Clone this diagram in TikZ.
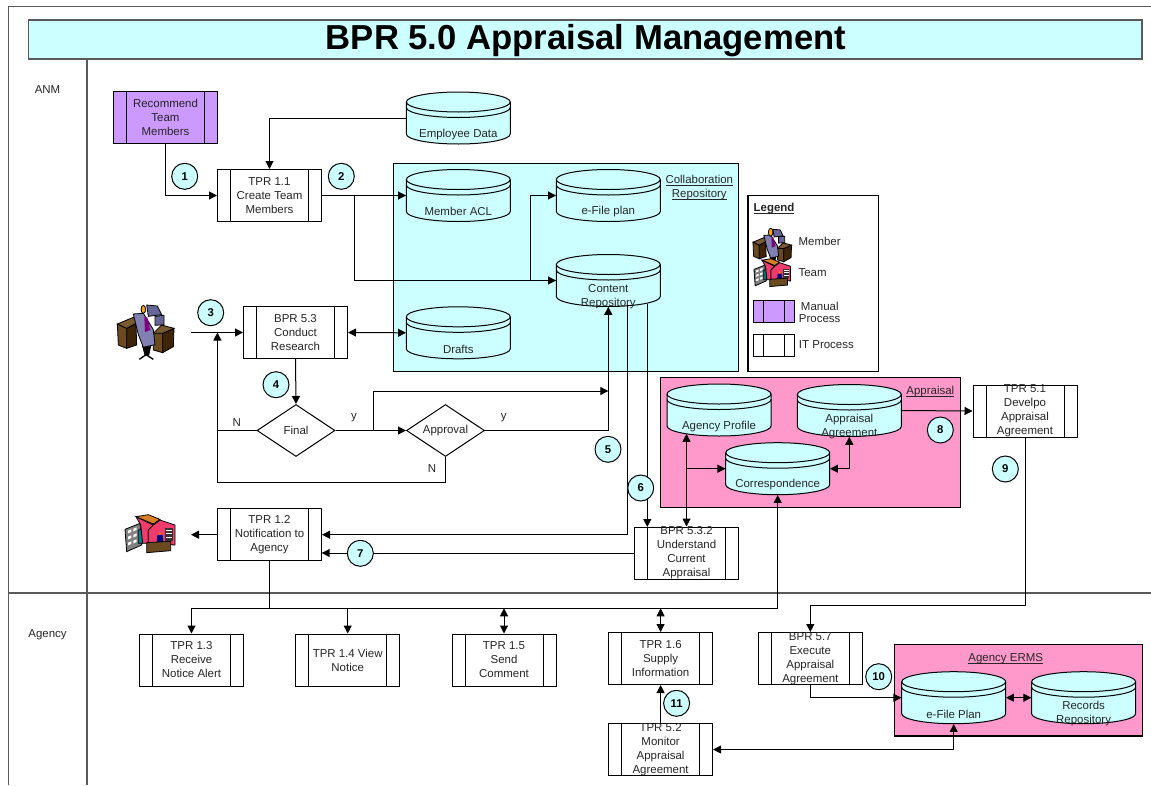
\documentclass[tikz,border=0pt]{standalone}
\usepackage{fontspec}
\setmainfont{Liberation Sans}
\usetikzlibrary{arrows.meta,calc,shapes.geometric}
\definecolor{cy}{HTML}{CCFFFF}
\definecolor{pk}{HTML}{FF99CC}
\definecolor{pu}{HTML}{CC99FF}
\definecolor{frameln}{HTML}{5A5A5A}
\newcommand\lbl{\fontsize{8.6}{10.5}\selectfont}
\newcommand\ulx[1]{\underline{\smash{#1}}}
\tikzset{
  procbox/.style={draw=black,line width=.75pt,rectangle,minimum width=78pt,minimum height=39pt,inner sep=0pt,
    path picture={\draw[line width=.75pt]
      ($(path picture bounding box.north west)+(#1pt,0)$) -- ($(path picture bounding box.south west)+(#1pt,0)$)
      ($(path picture bounding box.north east)+(-#1pt,0)$) -- ($(path picture bounding box.south east)+(-#1pt,0)$);}},
  procbox/.default=9.75,
  boxtext/.style={font=\lbl,align=center,inner sep=0pt,text=black!85},
  plain/.style={font=\lbl,inner sep=0pt,text=black!85},
  dbbox/.style={rectangle,minimum width=78pt,minimum height=39pt,inner sep=0pt},
  dbline/.style={draw=black,line width=.75pt},
  flow/.style={line width=.75pt,-{Triangle[length=6pt,width=6pt]}},
  bothflow/.style={line width=.75pt,{Triangle[length=6pt,width=6pt]}-{Triangle[length=6pt,width=6pt]}},
  wire/.style={line width=.75pt},
  stepmark/.style={circle,draw=black,fill=cy,line width=.75pt,minimum size=19.5pt,inner sep=0pt,font=\fontsize{8.5}{9}\selectfont\bfseries},
  decision/.style={diamond,aspect=1.5,draw=black,line width=.75pt,fill=white,minimum width=58.5pt,minimum height=39pt,inner sep=0pt},
  swim/.style={draw=frameln,line width=1pt},
  icn/.style={draw=black,line width=.6pt},
}
\newcommand\proc[5][white]{%
  \node[procbox,fill=#1] (#2) at (#3,#4) {};
  \node[boxtext] (#2-t) at (#2.center) {#5};}
\newcommand\dbase[4]{%
  \begin{scope}[shift={(#2,#3)}]
    \path[dbline,fill=cy] (-52,-16) -- (-52,16) arc[start angle=180,end angle=360,x radius=39pt,y radius=7.5pt]
      -- (52,-16) arc[start angle=0,end angle=180,x radius=39pt,y radius=7.5pt] -- cycle;
    \path[dbline] (-52,-16) arc[start angle=180,end angle=360,x radius=39pt,y radius=7.5pt];
    \path[dbline] (-52,-10.5) arc[start angle=180,end angle=360,x radius=39pt,y radius=7.5pt];
  \end{scope}
  \node[dbbox] (#1) at (#2,#3) {};
  \node[boxtext] (#1-t) at ($(#1.center)+(0,16.3)$) {#4};}
\definecolor{dkbrown}{HTML}{3F2508}
\definecolor{mdbrown}{HTML}{6B4A20}
\definecolor{ltbrown}{HTML}{7A5A30}
\newcommand\personicon{%
  \path[icn,fill=mdbrown] (22,78)--(50,91)--(50,151)--(25,141)--cycle;
  \path[icn,fill=dkbrown] (50,91)--(78,78)--(80,141)--(50,151)--cycle;
  \path[icn,fill=ltbrown] (22,78)--(70,58)--(85,72)--(50,91)--cycle;
  \path[icn,fill=mdbrown] (130,106)--(158,106)--(158,164)--(130,156)--cycle;
  \path[icn,fill=dkbrown] (158,106)--(192,91)--(190,146)--(158,164)--cycle;
  \path[icn,fill=ltbrown] (130,106)--(155,81)--(192,91)--(158,106)--cycle;
  \path[icn,fill=blue!20!gray] (110,21)--(142,24)--(155,50)--(115,55)--cycle;
  \path[icn,fill=blue!20!gray] (135,55)--(162,52)--(162,80)--(135,82)--cycle;
  \path[icn,fill=black] (98,145)--(122,145)--(116,172)--(105,172)--cycle;
  \draw[line width=1pt] (88,184)--(108,170)--(130,184);
  \path[icn,fill=blue!25!gray!80!white] (70,48)--(100,46)--(130,95)--(135,140)--(100,148)--(85,110)--cycle;
  \path[fill=violet] (103,58)--(112,58)--(121,96)--(105,102)--cycle;
  \path[icn,fill=orange!70!yellow] (100,34) ellipse[x radius=1.7pt,y radius=3pt];
}
\newcommand\teamicon{%
  \path[icn,fill=gray] (15,58)--(60,40)--(65,105)--(20,125)--cycle;
  \foreach \a in {0,1,2}{\foreach \b in {0,1}{%
    \path[fill=white] ({24+\b*16},{62-\b*6+\a*18})--++(10,-4)--++(0,8)--++(-10,4)--cycle;}}
  \path[icn,fill=teal] (55,60)--(68,58)--(68,100)--(55,100)--cycle;
  \path[icn,fill=magenta!50!red!80!white] (48,20)--(100,45)--(85,60)--(85,100)--(68,100)--(62,45)--cycle;
  \path[icn,fill=magenta!50!red!80!white] (100,45)--(120,30)--(165,45)--(165,105)--(85,100)--(85,60)--cycle;
  \path[icn,fill=orange!40!brown] (48,20)--(85,14)--(120,28)--(100,42)--cycle;
  \path[fill=black!80] (135,55)--(160,55)--(160,92)--(135,92)--cycle;
  \foreach \a in {0,1,2}{\path[fill=white] (139,{60+\a*10}) rectangle +(18,3);}
  \path[fill=blue!50!black] (112,75)--(128,75)--(130,98)--(110,98)--cycle;
  \path[fill=orange] (120,70) circle[radius=1pt];
  \path[icn,fill=mdbrown] (80,98)--(152,94)--(152,122)--(80,128)--cycle;
}
\begin{document}
\begin{tikzpicture}[x=.75pt,y=-.75pt]
\useasboundingbox (0,0) rectangle (1151,785);
% swim lanes
\draw[swim] (1151,6.5) -- (8.5,6.5) -- (8.5,785);
\draw[swim] (87,59) -- (87,785);
\draw[swim] (8.5,593) -- (1151,593);
\node[draw=frameln,fill=cy,line width=1pt,minimum width=835pt,minimum height=29.25pt,inner sep=0pt] (title) at (585.3,39.5) {};
\node[font=\fontsize{26}{30}\selectfont\bfseries,inner sep=0pt] (title-t) at (586,41) {BPR 5.0 Appraisal Management};
\node[plain] (anm) at (47.5,90) {ANM};
\node[plain] (agencylane) at (47.5,634.5) {Agency};
% containers
\fill[cy,draw=black,line width=.9pt] (393.3,163.3) rectangle (738.7,371.7);
\fill[pk,draw=black,line width=.9pt] (660.3,377.3) rectangle (960.3,507.7);
\fill[pk,draw=black,line width=.9pt] (894.5,644.3) rectangle (1142.4,736);
\draw[line width=.9pt] (748,195.7) rectangle (878.3,371.7);
\node[boxtext] (collab) at (699.3,191.5) {\ulx{Collaboration}\\\ulx{Repository}};
\node[boxtext] (apprl) at (930.3,395.5) {\ulx{Appraisal}};
\node[boxtext] (erms) at (1005.7,662.5) {\ulx{Agency ERMS}};
% legend
\node[plain,font=\lbl\bfseries] (lg) at (774,212.5) {\ulx{Legend}};
\begin{scope}[shift={(748,224.5)},x=.17pt,y=-.17pt]\personicon\end{scope}
\begin{scope}[shift={(750.3,255.3)},x=.183pt,y=-.183pt]\teamicon\end{scope}
\node[plain,anchor=west] (lgm) at (798.3,241) {Member};
\node[plain,anchor=west] (lgt) at (798.3,273) {Team};
\node[plain,anchor=west] (lgman) at (800.7,306) {Manual};
\node[plain,anchor=west] (lgpro) at (798.7,319) {Process};
\node[plain,anchor=west] (lgit) at (798.7,345) {IT Process};
\node[procbox=7.5,fill=pu,minimum width=30.4pt,minimum height=16.8pt] (lgb1) at (773.9,311.2) {};
\node[procbox=7.5,minimum width=30.4pt,minimum height=16.8pt] (lgb2) at (773.9,345.5) {};
% icons
\begin{scope}[shift={(110,298)},x=.25pt,y=-.25pt]\personicon\end{scope}
\begin{scope}[shift={(120,510)},x=.25pt,y=-.25pt]\teamicon\end{scope}
% databases
\dbase{emp}{458.3}{118}{Employee Data}
\dbase{acl}{458.3}{195.5}{Member ACL}
\dbase{efp}{608.3}{195.5}{e-File plan}
\dbase{content}{608.3}{280.5}{Content\\Repository}
\dbase{drafts}{458.3}{332.8}{Drafts}
\dbase{prof}{719}{410}{Agency Profile}
\dbase{agr}{849.3}{410.5}{Appraisal\\Agreement}
\dbase{corr}{777.7}{468.7}{Correspondence}
\dbase{efile}{953.7}{697.7}{e-File Plan}
\dbase{recs}{1083.6}{697.7}{Records\\Repository}
% processes
\proc[pu]{rec}{165.5}{117.5}{Recommend\\Team\\Members}
\proc{t11}{269.5}{195.5}{TPR 1.1\\Create Team\\Members}
\proc{b53}{295.5}{332.5}{BPR 5.3\\Conduct\\Research}
\proc{t12}{269.5}{534.7}{TPR 1.2\\Notification to\\Agency}
\proc{b532}{686.5}{553}{BPR 5.3.2\\Understand\\Current\\Appraisal}
\proc{t51}{1025}{411}{TPR 5.1\\Develpo\\Appraisal\\Agreement}
\proc{t13}{191.5}{660}{TPR 1.3\\Receive\\Notice Alert}
\proc{t14}{347.7}{660}{TPR 1.4 View\\Notice}
\proc{t15}{504}{660}{TPR 1.5\\Send\\Comment}
\proc{t16}{660.6}{658.5}{TPR 1.6\\Supply\\Information}
\proc{b57}{810.3}{658.5}{BPR 5.7\\Execute\\Appraisal\\Agreement}
\proc{t52}{660.6}{749.5}{TPR 5.2\\Monitor\\Appraisal\\Agreement}
\node[decision] (final) at (296,430.5) {};
\node[boxtext] (final-t) at (final.center) {Final};
\node[decision] (appr) at (445.5,430.5) {};
\node[boxtext] (appr-t) at (appr.center) {Approval};
% helper coordinates
\coordinate (pers) at (191,332.5);
\coordinate (j1) at (354,280.5);
\coordinate (j2) at (530.3,280.5);
\coordinate (j3) at (217.4,430.5);
\coordinate (j4) at (217.4,332.5);
\coordinate (j5) at (373.7,430.5);
\coordinate (j6) at (373.7,391);
\coordinate (j7) at (608.3,391);
\coordinate (j8) at (608.3,430.5);
\coordinate (j9) at (445.5,482.3);
\coordinate (j10) at (217.4,482.3);
\coordinate (c5a) at (627.7,305);
\coordinate (c5b) at (627.7,534.7);
\coordinate (c6a) at (647.3,304);
\coordinate (c6b) at (647.3,527);
\coordinate (ap1) at (686.5,468.7);
\coordinate (profb) at (686.5,433.8);
\coordinate (tj) at (269.5,608.3);
\coordinate (tr) at (777.7,608.3);
\coordinate (ta3) at (191.5,608.3);
\coordinate (ta4) at (347.7,608.3);
\coordinate (ta5) at (504,608.3);
\coordinate (ta6) at (660.6,608.3);
\coordinate (r9) at (1025,605.7);
\coordinate (r10) at (810.3,605.7);
\coordinate (r11) at (810.3,697.7);
\coordinate (r12) at (953.7,749.5);
\coordinate (cb7) at (321.7,553);
% connectors
\draw[flow] (rec.south) |- (t11.west);
\draw[flow] (emp.west) -| (t11.north);
\draw[flow] (t11.east) -- (acl.west);
\draw[wire] (t11.east) -| (j1);
\draw[flow] (j1) -- (content.west);
\draw[flow] (j2) |- (efp.west);
\draw[flow] (pers) -- (b53.west);
\draw[bothflow] (b53.east) -- (drafts.west);
\draw[flow] (b53.south) -- (final.north);
\draw[wire] (final.west) -- (j3);
\draw[flow] (j3) -- (j4);
\draw[flow] (final.east) -- (appr.west);
\draw[wire] (j5) -- (j6);
\draw[flow] (j6) -- (j7);
\draw[wire] (appr.east) -- (j8);
\draw[flow] (j8) -- (content.south);
\draw[wire] (appr.south) -- (j9) -- (j10) -- (j3);
\draw[wire] (c5a) -- (c5b);
\draw[flow] (c5b) -- (t12.east);
\draw[flow] (c6a) -- (c6b);
\draw[flow] (b532.west) -- (cb7);
\draw[bothflow] (b532.north -| profb) -- (profb);
\draw[flow] (ap1) -- (corr.west);
\draw[bothflow] (agr.south) |- (corr.east);
\draw[flow] (agr.east) -- (t51.west);
\draw[wire] (t51.south) -- (r9);
\draw[flow] (r9) -- (r10) -- (b57.north);
\draw[wire] (t12.south) -- (tj);
\draw[flow] (tj) -- (ta3) -- (t13.north);
\draw[flow] (tj) -- (tr) -- (corr.south);
\draw[flow] (ta4) -- (t14.north);
\draw[bothflow] (ta5) -- (t15.north);
\draw[bothflow] (ta6) -- (t16.north);
\draw[flow] (b57.south) -- (r11) -- (efile.west);
\draw[bothflow] (efile.east) -- (recs.west);
\draw[bothflow] (t52.east) -- (r12) -- (efile.south);
\draw[flow] (t52.north) -- (t16.south);
\draw[flow] (t12.west) -- ++(-26,0) coordinate (tmout);
% branch labels
\node[plain] (ln1) at (236.7,423) {N};
\node[plain] (ly1) at (354,418) {y};
\node[plain] (ln2) at (432,469) {N};
\node[plain] (ly2) at (503.7,417.7) {y};
% step marks
\node[stepmark] (s1) at (184.7,176.3) {1};
\node[stepmark] (s2) at (341.3,176.3) {2};
\node[stepmark] (s3) at (210.7,312.7) {3};
\node[stepmark] (s4) at (276,384.7) {4};
\node[stepmark] (s5) at (608,449.3) {5};
\node[stepmark] (s6) at (640.7,488) {6};
\node[stepmark] (s7) at (360.3,553.3) {7};
\node[stepmark] (s8) at (940.3,430) {8};
\node[stepmark] (s9) at (1005.3,469) {9};
\node[stepmark] (s10) at (878.7,676.7) {10};
\node[stepmark] (s11) at (676.6,703.3) {11};
\end{tikzpicture}
\end{document}
